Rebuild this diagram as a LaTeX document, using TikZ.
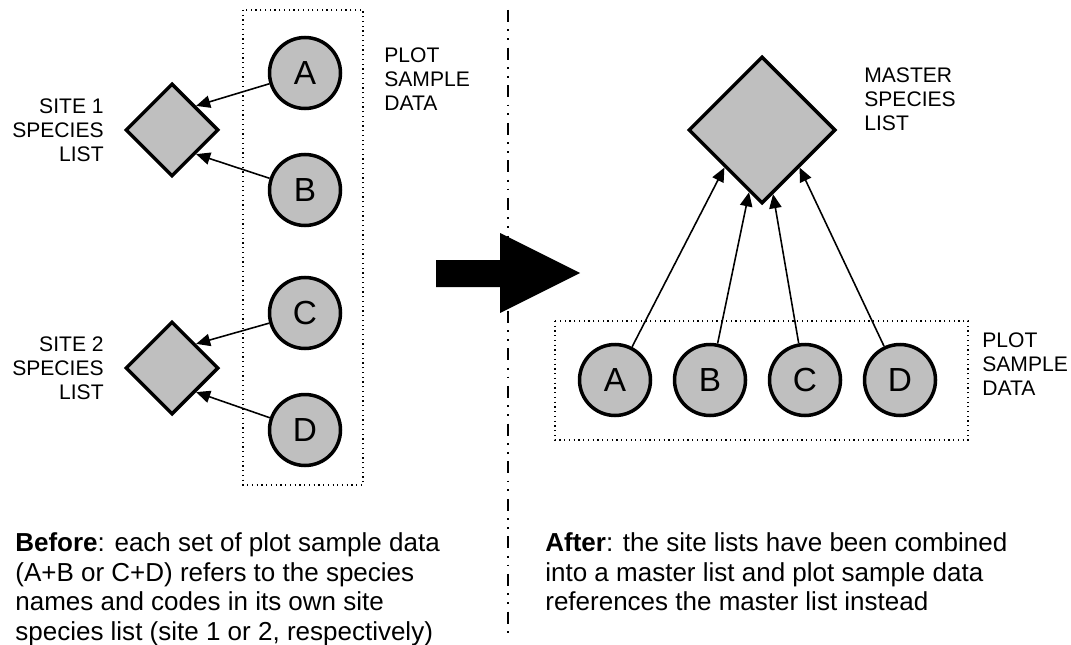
\documentclass[tikz,border=0pt]{standalone}
\usepackage{fontspec}
\setmainfont{Liberation Sans}
\usetikzlibrary{shapes, arrows.meta}

\begin{document}
\begin{tikzpicture}[x=0.02cm, y=-0.02cm,
    plot/.style={circle, draw=black, line width=2pt, fill=black!25, minimum size=1.42cm, inner sep=0pt, font=\fontsize{19}{22}\selectfont},
    sitelist/.style={diamond, draw=black, line width=2pt, fill=black!25, inner sep=0pt},
    lbl/.style={font=\fontsize{12}{13.7}\selectfont, inner sep=0pt},
    note/.style={font=\fontsize{14.8}{17}\selectfont, align=left, inner sep=0pt, anchor=north west},
    ref/.style={-{Triangle[length=8pt, width=7pt]}, line width=0.9pt},
    samplebox/.style={dotted, line width=0.7pt},
    divider/.style={line width=1pt, dash pattern=on 6.8pt off 4.3pt on 1pt off 4pt on 1pt off 4.3pt}]
            \useasboundingbox (0,0) rectangle (1071,645);

            % before
            \draw[samplebox] (243,10) rectangle (363,485);
            \node[sitelist, minimum size=1.86cm] (site1) at (172,130) {};
            \node[sitelist, minimum size=1.86cm] (site2) at (172,368) {};
            \node[plot] (a1) at (305,73) {A};
            \node[plot] (b1) at (305,190) {B};
            \node[plot] (c1) at (305,313) {C};
            \node[plot] (d1) at (305,430) {D};
            \node[lbl, anchor=east, align=right] (site1lbl) at (104,130) {SITE 1\\SPECIES\\LIST};
            \node[lbl, anchor=east, align=right] (site2lbl) at (104,368) {SITE 2\\SPECIES\\LIST};
            \node[lbl, anchor=west, align=left] (plotlbl1) at (384,79) {PLOT\\SAMPLE\\DATA};

            \draw[ref] (a1) -- (site1.north east);
            \draw[ref] (b1) -- (site1.south east);
            \draw[ref] (c1) -- (site2.north east);
            \draw[ref] (d1) -- (site2.south east);

            % divider and big arrow
            \draw[divider] (508,10) -- (508,635);
            \fill[black] (436,260) -- (500,260) -- (500,233) -- (580,273) -- (500,313) -- (500,287) -- (436,287) -- cycle;

            % after
            \draw[samplebox] (555,321) rectangle (968,440);
            \node[sitelist, minimum size=2.94cm] (master) at (762,130) {};
            \node[plot] (a2) at (615,380) {A};
            \node[plot] (b2) at (710,380) {B};
            \node[plot] (c2) at (805,380) {C};
            \node[plot] (d2) at (900,380) {D};
            \node[lbl, anchor=west, align=left] (masterlbl) at (864,99) {MASTER\\SPECIES\\LIST};
            \node[lbl, anchor=west, align=left] (plotlbl2) at (982,364) {PLOT\\SAMPLE\\DATA};

            \draw[ref] (a2) -- (master.south west);
            \draw[ref] (b2) -- (master);
            \draw[ref] (c2) -- (master);
            \draw[ref] (d2) -- (master.south east);

            \node[note] (before) at (15,532) {\textbf{Before}: each set of plot sample data\\(A+B or C+D) refers to the species\\names and codes in its own site\\species list (site 1 or 2, respectively)};
            \node[note] (after) at (545,532) {\textbf{After}: the site lists have been combined\\into a master list and plot sample data\\references the master list instead};
        \end{tikzpicture}
\end{document}
